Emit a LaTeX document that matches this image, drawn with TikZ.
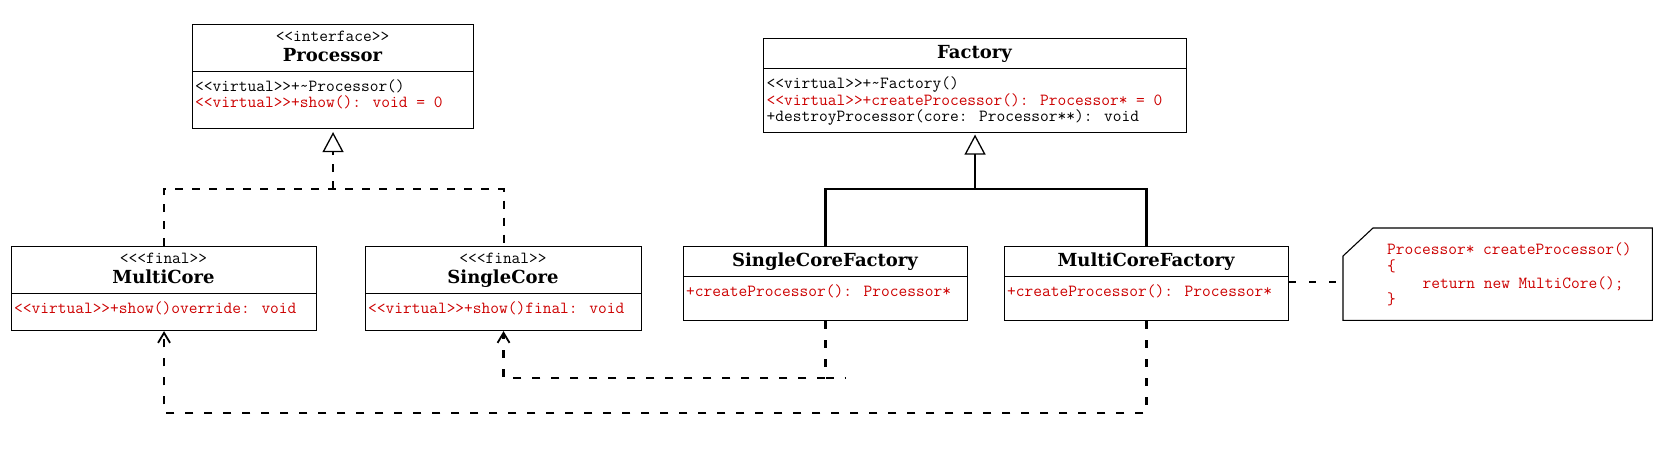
\documentclass[tikz,border=0pt]{standalone}
\usepackage{fontspec}
\usetikzlibrary{arrows.meta}
\newfontfamily\titlefam{DejaVu Serif}
\newcommand\opfont{\ttfamily\fontsize{16.95pt}{16.7pt}\selectfont}
\newcommand\titlefont{\titlefam\bfseries\fontsize{18pt}{20pt}\selectfont}
\definecolor{umlred}{RGB}{204,0,0}
\tikzset{
  classbox/.style={draw, line width=1.1pt, inner sep=0pt, anchor=north west},
  divline/.style={line width=1pt},
  optext/.style={anchor=base west, inner sep=0pt, font=\opfont},
  redop/.style={optext, text=umlred},
  stereotext/.style={anchor=base, inner sep=0pt, font=\opfont},
  titletext/.style={anchor=base, inner sep=0pt, font=\titlefont},
  realize/.style={line width=2pt, dash pattern=on 8pt off 9pt},
  inherit/.style={line width=2.5pt},
  depend/.style={line width=2.2pt, dash pattern=on 8pt off 11pt},
  notelink/.style={line width=2.2pt, dash pattern=on 7pt off 13pt},
  hollowtri/.style={-{Triangle[length=20pt, width=21pt, fill=white, line width=1.3pt]}},
  openarrow/.style={-{Straight Barb[length=10pt, width=12pt, line width=1.8pt]}},
}
\begin{document}
\begin{tikzpicture}[x=1pt, y=-1pt]
\useasboundingbox (0,0) rectangle (1663,448);

% ---------- Processor ----------
\node[classbox, minimum width=281pt, minimum height=104pt] (proc) at (192,24) {};
\draw[divline] (proc.west |- 0,71) -- (proc.east |- 0,71);
\node[stereotext] (procst) at (332.5,41.7) {<<interface>>};
\node[titletext] (procname) at (332.5,61) {Processor};
\node[optext] (procop1) at (195,91) {<<virtual>>+\textasciitilde Processor()};
\node[redop] (procop2) at (195,107.7) {<<virtual>>+show(): void = 0};

% ---------- Factory ----------
\node[classbox, minimum width=423pt, minimum height=94pt] (fac) at (763,38) {};
\draw[divline] (fac.west |- 0,68) -- (fac.east |- 0,68);
\node[titletext] (facname) at (974.5,58.3) {Factory};
\node[optext] (facop1) at (766.5,88.3) {<<virtual>>+\textasciitilde Factory()};
\node[redop] (facop2) at (766.5,105) {<<virtual>>+createProcessor(): Processor* = 0};
\node[optext] (facop3) at (766.5,121.7) {+destroyProcessor(core: Processor**): void};

% ---------- MultiCore ----------
\node[classbox, minimum width=305pt, minimum height=84pt] (mc) at (11,246) {};
\draw[divline] (mc.west |- 0,293) -- (mc.east |- 0,293);
\node[stereotext] (mcst) at (163.5,263.7) {<<<final>>};
\node[titletext] (mcname) at (163.5,283) {MultiCore};
\node[redop] (mcop) at (14,313) {<<virtual>>+show()override: void};

% ---------- SingleCore ----------
\node[classbox, minimum width=276pt, minimum height=84pt] (sc) at (365,246) {};
\draw[divline] (sc.west |- 0,293) -- (sc.east |- 0,293);
\node[stereotext] (scst) at (503,263.7) {<<<final>>};
\node[titletext] (scname) at (503,283) {SingleCore};
\node[redop] (scop) at (368,313) {<<virtual>>+show()final: void};

% ---------- SingleCoreFactory ----------
\node[classbox, minimum width=284pt, minimum height=74pt] (scf) at (683,246) {};
\draw[divline] (scf.west |- 0,276) -- (scf.east |- 0,276);
\node[titletext] (scfname) at (825,266) {SingleCoreFactory};
\node[redop] (scfop) at (686,296.6) {+createProcessor(): Processor*};

% ---------- MultiCoreFactory ----------
\node[classbox, minimum width=284pt, minimum height=74pt] (mcf) at (1004,246) {};
\draw[divline] (mcf.west |- 0,276) -- (mcf.east |- 0,276);
\node[titletext] (mcfname) at (1146,266) {MultiCoreFactory};
\node[redop] (mcfop) at (1007,296.6) {+createProcessor(): Processor*};

% ---------- Note ----------
\node[inner sep=0pt, minimum width=309pt, minimum height=92pt, anchor=north west] (note) at (1343,228) {};
\draw[line width=1.1pt] ([xshift=30pt]note.north west) -- (note.north east) -- (note.south east)
  -- (note.south west) -- ([yshift=-28pt]note.north west) -- cycle;
\node[redop] (nl1) at (1387,254.5) {Processor* createProcessor()};
\node[redop] (nl2) at (1387,271.3) {\{};
\node[redop] (nl3) at (1422.5,288) {return new MultiCore();};
\node[redop] (nl4) at (1387,304.7) {\}};

% ---------- Realization of Processor ----------
\coordinate (pj) at (proc.south |- 0,189);
\draw[realize] (mc.north) |- (pj) -| (sc.north);
\draw[realize, hollowtri, shorten >=3pt] (pj) -- (proc.south);

% ---------- Generalization of Factory ----------
\coordinate (fj) at (fac.south |- 0,189);
\draw[inherit] (scf.north) |- (fj) -| (mcf.north);
\draw[inherit, hollowtri, shorten >=1.5pt] (fj) -- (fac.south);

% ---------- Dependencies ----------
\coordinate (sd) at (scf.south |- 0,378);
\draw[depend, openarrow] (scf.south) -- (sd) -| (sc.south);
\draw[depend] (sd) -- ++(20,0);
\coordinate (md) at (mcf.south |- 0,413);
\draw[depend, openarrow] (mcf.south) -- (md) -| (mc.south);

% ---------- Note link ----------
\draw[notelink] (mcf.east |- 0,281.7) -- (note.west |- 0,281.7);
\end{tikzpicture}
\end{document}
